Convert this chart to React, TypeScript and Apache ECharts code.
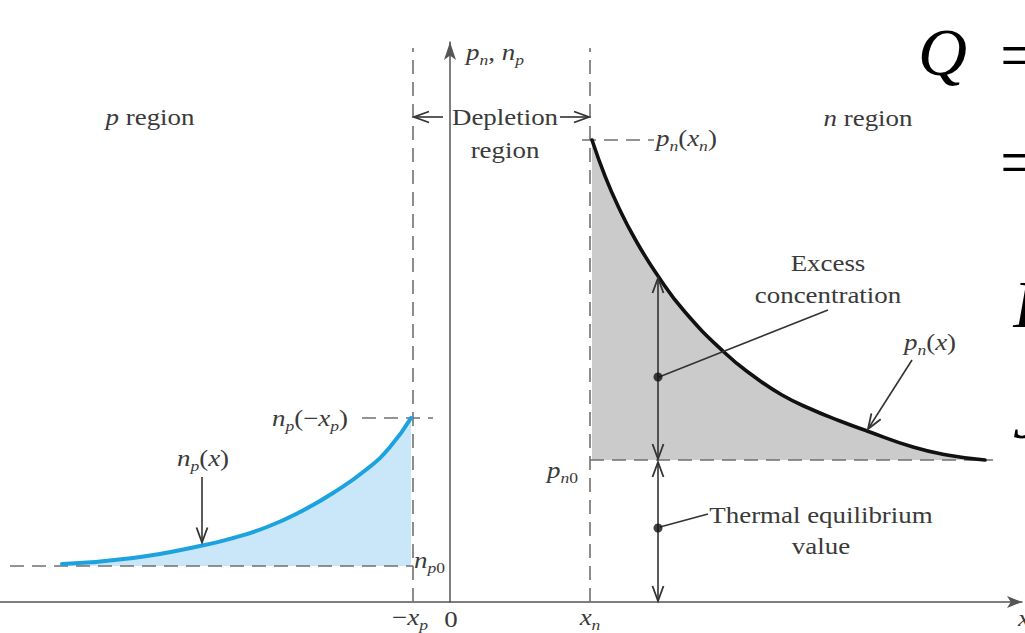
import React, { useEffect, useRef } from "react";
import * as echarts from "echarts";

const SERIF = "Liberation Serif, serif";
const TEXT = "#3a3a3a";
const LINE_GREY = "#707070";

// axis extents (arbitrary position units)
const X_MIN = -45;
const X_MAX = 57.2;
const Y_MIN = 0;
const Y_MAX = 56;

// key positions / levels
const X_P_NEG = -3.7; // -x_p
const X_N = 14.0; // x_n
const NP0 = 3.6; // n_p0
const NP_EDGE = 18.4; // n_p(-x_p)
const PN0 = 14.2; // p_n0
const PN_EDGE = 46.2; // p_n(x_n)
const BOUNDARY_TOP = 55.4;

// n_p(x) in p region
const npX = [-38.8, -31.7, -25.0, -21.7, -18.3, -15.0, -11.7, -8.3, -6.0, -3.9];
const npY = [3.8, 4.4, 5.6, 6.4, 7.5, 9.0, 10.9, 13.3, 15.5, 18.4];

// p_n(x) in n region
const pnX = [14.2, 15.5, 16.8, 18.5, 20.8, 23.5, 27.5, 30.2, 33.2, 36.3, 39.0, 41.7, 46.3, 49.7, 53.5];
const pnY = [46.2, 42.6, 39.6, 36.3, 32.6, 29.0, 24.9, 22.7, 20.7, 19.2, 18.1, 17.1, 15.5, 14.7, 14.2];

// dashed guide lines: x1, y1, x2, y2
const dashedSegments = [
  [X_P_NEG, 0, X_P_NEG, BOUNDARY_TOP],
  [X_N, 0, X_N, BOUNDARY_TOP],
  [-44, NP0, X_P_NEG, NP0],
  [-8.8, NP_EDGE, -1.7, NP_EDGE],
  [13.2, PN_EDGE, 20.4, PN_EDGE],
  [X_N, PN0, 54.3, PN0],
];

// arrows: x1, y1, x2, y2, head at start, head at end
const arrowSegments = [
  [-0.7, 48.5, -3.6, 48.5, 0, 1],
  [11.0, 48.5, 13.9, 48.5, 0, 1],
  [-24.8, 12.5, -24.8, 5.95, 0, 1],
  [20.8, 32.4, 20.8, 14.3, 1, 1],
  [20.8, 14.0, 20.8, 0.1, 1, 1],
  [46.2, 24.2, 41.8, 17.3, 0, 1],
  [20.9, 22.5, 37.8, 29.2, 0, 0],
  [21.0, 7.5, 25.8, 8.8, 0, 0],
];

// leader dots
const dots = [
  [20.8, 22.5],
  [20.8, 7.4],
];

// texts anchored in data coordinates
const LABELS = [
  { t: "{i|p}{r| region}", x: -30, y: 48.5 },
  { t: "{i|n}{r| region}", x: 41.8, y: 48.4 },
  { t: "{r|Depletion}", x: 5.5, y: 48.5 },
  { t: "{r|region}", x: 5.5, y: 45.2 },
  { t: "{i|p}{s|n}{r|, }{i|n}{s|p}", x: 1.6, y: 55.0, align: "left" },
  { t: "{i|p}{s|n}{r|(}{i|x}{s|n}{r|)}", x: 20.6, y: 46.4, align: "left" },
  { t: "{i|n}{s|p}{r|(−}{i|x}{s|p}{r|)}", x: -10.2, y: 18.4, align: "right" },
  { t: "{i|n}{s|p}{r|(}{i|x}{r|)}", x: -24.7, y: 14.4 },
  { t: "{i|n}{s|p}{s0|0}", x: -3.6, y: 4.2, align: "left" },
  { t: "{i|p}{s|n}{s0|0}", x: 12.8, y: 13.2, align: "right" },
  { t: "{r|Excess}", x: 37.8, y: 33.9 },
  { t: "{r|concentration}", x: 37.8, y: 30.7 },
  { t: "{i|p}{s|n}{r|(}{i|x}{r|)}", x: 48.0, y: 26.0 },
  { t: "{r|Thermal equilibrium}", x: 37.1, y: 8.7 },
  { t: "{r|value}", x: 37.1, y: 5.6 },
  { t: "{r|−}{i|x}{s|p}", x: -4.0, y: -1.5 },
  { t: "{r|0}", x: 0.1, y: -1.7 },
  { t: "{i|x}{s|n}", x: 14.0, y: -1.5 },
  { t: "{i|x}", x: 56.8, y: -1.6, align: "left" },
  { t: "{Q|Q}", x: 46.8, y: 55.0, align: "left", sx: 1 },
  { t: "{E|=}", x: 55.0, y: 54.7, align: "left", sx: 1 },
  { t: "{E|=}", x: 55.0, y: 44.0, align: "left", sx: 1 },
  { t: "{Q|I}", x: 56.3, y: 29.8, align: "left", sx: 1 },
  { t: "{Q|J}", x: 56.3, y: 18.7, align: "left", sx: 1 },
];

const RICH = {
  r: { fontFamily: SERIF, fontSize: 23, lineHeight: 30, fill: TEXT },
  i: { fontFamily: SERIF, fontSize: 23, fontStyle: "italic", lineHeight: 30, fill: TEXT },
  s: { fontFamily: SERIF, fontSize: 15, fontStyle: "italic", lineHeight: 10, verticalAlign: "bottom", fill: TEXT },
  s0: { fontFamily: SERIF, fontSize: 15, lineHeight: 10, verticalAlign: "bottom", fill: TEXT },
  Q: { fontFamily: SERIF, fontSize: 68, fontStyle: "italic", lineHeight: 72, fill: "#000" },
  E: { fontFamily: SERIF, fontSize: 68, lineHeight: 72, fill: "#000" },
};

function arrowItem(params: any, api: any) {
  const p1 = api.coord([api.value(0), api.value(1)]);
  const p2 = api.coord([api.value(2), api.value(3)]);
  const hs = api.value(4);
  const he = api.value(5);
  const color = "#333";
  const children: any[] = [
    {
      type: "line",
      shape: { x1: p1[0], y1: p1[1], x2: p2[0], y2: p2[1] },
      style: { stroke: color, lineWidth: 1.6 },
    },
  ];
  const head = (tip: number[], from: number[]) => {
    const dx = tip[0] - from[0];
    const dy = tip[1] - from[1];
    const len = Math.hypot(dx, dy) || 1;
    const ux = dx / len;
    const uy = dy / len;
    const L = 15;
    const W = 5.5;
    const bx = tip[0] - ux * L;
    const by = tip[1] - uy * L;
    return {
      type: "polyline",
      shape: { points: [[bx - uy * W, by + ux * W], [tip[0], tip[1]], [bx + uy * W, by - ux * W]] },
      style: { stroke: color, lineWidth: 1.8, fill: null },
    };
  };
  if (he) children.push(head(p2, p1));
  if (hs) children.push(head(p1, p2));
  return { type: "group", children };
}

function dashedItem(params: any, api: any) {
  const p1 = api.coord([api.value(0), api.value(1)]);
  const p2 = api.coord([api.value(2), api.value(3)]);
  return {
    type: "line",
    shape: { x1: p1[0], y1: p1[1], x2: p2[0], y2: p2[1] },
    style: { stroke: LINE_GREY, lineWidth: 1.6, lineDash: [14, 8] },
  };
}

function textItem(params: any, api: any) {
  const a: any = LABELS[params.dataIndex];
  const p = api.coord([api.value(0), api.value(1)]);
  return {
    type: "text",
    x: p[0],
    y: p[1],
    scaleX: a.sx != null ? a.sx : 1.17,
    style: {
      text: a.t,
      rich: RICH,
      fill: TEXT,
      fontFamily: SERIF,
      fontSize: 23,
      align: a.align || "center",
      verticalAlign: "middle",
    },
  };
}

export default function App() {
  const ref = useRef<HTMLDivElement>(null);
  useEffect(() => {
    if (!ref.current) return;
    const chart = echarts.init(ref.current, null, { renderer: "svg" });
    const npData = npX.map((x, i) => [x, npY[i]]);
    const pnData = pnX.map((x, i) => [x, pnY[i]]);
    const curve = { smooth: 0.5, symbol: "none", silent: true };
    chart.setOption({
      animation: false,
      backgroundColor: "#ffffff",
      grid: { left: 0, right: 3, top: 42, bottom: 31 },
      xAxis: {
        type: "value",
        min: X_MIN,
        max: X_MAX,
        axisLine: {
          show: true,
          onZero: true,
          symbol: ["none", "arrow"],
          symbolSize: [9, 15],
          lineStyle: { color: "#555", width: 1.5 },
        },
        axisTick: { show: false },
        axisLabel: { show: false },
        splitLine: { show: false },
      },
      yAxis: {
        type: "value",
        min: Y_MIN,
        max: Y_MAX,
        axisLine: {
          show: true,
          onZero: true,
          symbol: ["none", "arrow"],
          symbolSize: [9, 18],
          lineStyle: { color: "#555", width: 1.5 },
        },
        axisTick: { show: false },
        axisLabel: { show: false },
        splitLine: { show: false },
      },
      series: [
        {
          type: "line",
          data: npData,
          ...curve,
          lineStyle: { width: 0 },
          areaStyle: { color: "#c9e7f8", opacity: 1, origin: NP0 },
          z: 1,
        },
        {
          type: "line",
          data: pnData,
          ...curve,
          lineStyle: { width: 0 },
          areaStyle: { color: "#cbcbcb", opacity: 1, origin: PN0 },
          z: 1,
        },
        {
          type: "custom",
          coordinateSystem: "cartesian2d",
          data: dashedSegments,
          encode: { x: [0, 2], y: [1, 3] },
          renderItem: dashedItem,
          z: 2,
          silent: true,
        },
        {
          type: "line",
          data: npData,
          ...curve,
          lineStyle: { width: 4, color: "#1ca3df", cap: "round" },
          z: 3,
        },
        {
          type: "line",
          data: pnData,
          ...curve,
          lineStyle: { width: 3.6, color: "#111111", cap: "round" },
          z: 3,
        },
        {
          type: "custom",
          coordinateSystem: "cartesian2d",
          data: arrowSegments,
          encode: { x: [0, 2], y: [1, 3] },
          renderItem: arrowItem,
          z: 4,
          silent: true,
        },
        {
          type: "scatter",
          data: dots,
          symbol: "circle",
          symbolSize: 9,
          itemStyle: { color: "#111" },
          z: 5,
          silent: true,
        },
        {
          type: "custom",
          coordinateSystem: "cartesian2d",
          data: LABELS.map((a) => [a.x, a.y]),
          encode: { x: 0, y: 1 },
          renderItem: textItem,
          z: 6,
          silent: true,
        },
      ],
    });
    return () => chart.dispose();
  }, []);
  return (
    <div
      ref={ref}
      style={{ position: "fixed", left: 0, top: 0, width: 1025, height: 633, background: "#fff" }}
    />
  );
}
